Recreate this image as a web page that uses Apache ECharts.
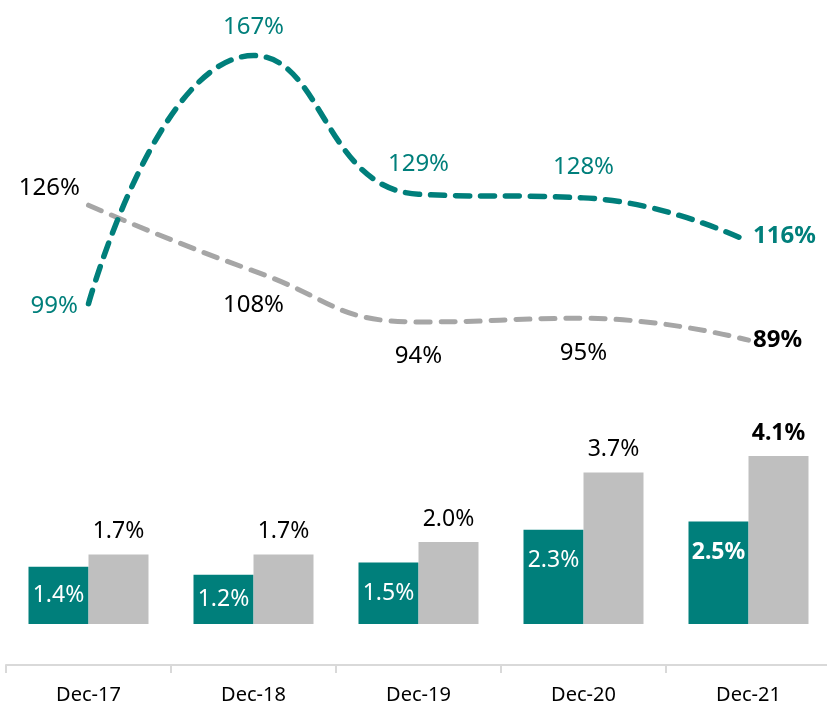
<!DOCTYPE html>
<html>
<head>
<meta charset="utf-8">
<script src="https://cdn.jsdelivr.net/npm/echarts@6/dist/echarts.min.js"></script>
<style>
  html, body { margin: 0; padding: 0; background: #fff; overflow: hidden; }
  #main { width: 832px; height: 714px; }
</style>
</head>
<body>
<div id="main"></div>
<script>
var categories = ['Dec-17', 'Dec-18', 'Dec-19', 'Dec-20', 'Dec-21'];
var tealBars = [1.4, 1.2, 1.5, 2.3, 2.5];
var grayBars = [1.7, 1.7, 2.0, 3.7, 4.1];
var tealLine = [99, 167, 129, 128, 116];
var grayLine = [126, 108, 94, 95, 89];

var TEAL = '#007f7b';
var FONT = 'Noto Sans';

// label placement for each point (kept apart from the values)
var tealLinePos = [['left', 10, [0, 2]], ['top', 16, [0, 0]], ['top', 18, [0, 0]], ['top', 18, [0, 0]], ['right', 4, [0, -6]]];
var grayLinePos = [['left', 8, [0, -17]], ['bottom', 22, [0, 0]], ['bottom', 22, [0, 0]], ['bottom', 22, [0, 0]], ['right', 4, [0, 0]]];
var tealBarPos = [['inside', 0], ['inside', 0], ['inside', 0], ['insideTop', 19], ['insideTop', 19]];

function lineData(vals, pos, color) {
    var out = [];
    for (var i = 0; i < vals.length; i++) {
        var last = i == vals.length - 1;
        out.push({
            value: vals[i],
            label: {
                position: pos[i][0],
                distance: pos[i][1],
                offset: pos[i][2],
                color: color,
                fontWeight: last ? 'bold' : 'normal'
            }
        });
    }
    return out;
}

var tealBarData = tealBars.map(function (v, i) {
    return {
        value: v,
        label: {
            position: tealBarPos[i][0],
            distance: tealBarPos[i][1],
            fontWeight: i == tealBars.length - 1 ? 'bold' : 'normal'
        }
    };
});
var grayBarData = grayBars.map(function (v, i) {
    return { value: v, label: { fontWeight: i == grayBars.length - 1 ? 'bold' : 'normal' } };
});

var pct1 = function (p) { return p.value.toFixed(1) + '%'; };
var pct0 = function (p) { return p.value + '%'; };

var option = {
    animation: false,
    textStyle: { fontFamily: FONT },
    grid: { left: 6, right: 1, top: 30, bottom: 49, containLabel: false },
    xAxis: {
        type: 'category',
        data: categories,
        axisLine: { onZero: false, lineStyle: { color: '#d9d9d9', width: 2 } },
        axisTick: { show: true, length: 8, lineStyle: { color: '#d9d9d9', width: 2 } },
        axisLabel: { color: '#000', fontSize: 20, margin: 20, fontFamily: FONT }
    },
    yAxis: [
        { type: 'value', min: -1, max: 14.5, show: false, splitLine: { show: false } },
        { type: 'value', min: 0, max: 174, show: false, splitLine: { show: false } }
    ],
    series: [
        {
            type: 'bar', yAxisIndex: 0, data: tealBarData, barWidth: 60, barGap: '0%',
            itemStyle: { color: TEAL },
            label: { show: true, color: '#fff', fontSize: 23, fontFamily: FONT, formatter: pct1 }
        },
        {
            type: 'bar', yAxisIndex: 0, data: grayBarData, barWidth: 60,
            itemStyle: { color: '#bfbfbf' },
            label: { show: true, position: 'top', distance: 11, color: '#000', fontSize: 23, fontFamily: FONT, formatter: pct1 }
        },
        {
            type: 'line', yAxisIndex: 1, data: lineData(grayLine, grayLinePos, '#000'),
            smooth: 0.5, symbol: 'circle', symbolSize: 1, showSymbol: true,
            itemStyle: { color: 'rgba(0,0,0,0)' },
            lineStyle: { color: '#a6a6a6', width: 5, type: [14, 11], cap: 'round' },
            label: { show: true, fontSize: 24, fontFamily: FONT, formatter: pct0 }
        },
        {
            type: 'line', yAxisIndex: 1, data: lineData(tealLine, tealLinePos, TEAL),
            smooth: 0.5, symbol: 'circle', symbolSize: 1, showSymbol: true,
            itemStyle: { color: 'rgba(0,0,0,0)' },
            lineStyle: { color: TEAL, width: 5.5, type: [14, 11], cap: 'round' },
            label: { show: true, fontSize: 24, fontFamily: FONT, formatter: pct0 }
        }
    ]
};

var chart = echarts.init(document.getElementById('main'));
chart.setOption(option);
</script>
</body>
</html>
